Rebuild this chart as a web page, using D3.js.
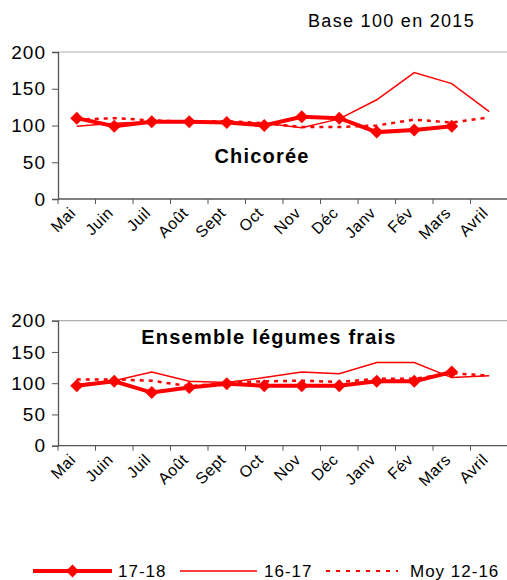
<!DOCTYPE html>
<html>
<head>
<meta charset="utf-8">
<script src="https://d3js.org/d3.v7.min.js"></script>
<style>
  * { margin: 0; padding: 0; }
  body { background: #fff; }
  svg { font-family: "Liberation Sans", Arial, sans-serif; }
</style>
</head>
<body>
<svg id="chart" width="507" height="580"></svg>
<script>
var months = ["Mai", "Juin", "Juil", "Août", "Sept", "Oct", "Nov", "Déc", "Janv", "Fév", "Mars", "Avril"];
var yTicks = [0, 50, 100, 150, 200];
var seriesNames = ["17-18", "16-17", "Moy 12-16"];

// Chicorée
var chic1718 = [110, 99, 105, 105, 104, 100, 112, 110, 91, 94, 99, null];
var chic1617 = [99, 103, 105, 105, 105, 103, 97, 109, 135, 172, 157, 119];
var chicMoy  = [108, 110, 107, 105, 106, 103, 98, 98, 100, 108, 104, 111];

// Ensemble légumes frais
var leg1718 = [96, 103, 85, 93, 99, 96, 96, 96, 103, 103, 118, null];
var leg1617 = [98, 104, 118, 103, 101, 109, 118, 115, 133, 133, 109, 112];
var legMoy  = [106, 106, 104, 95, 101, 103, 104, 102, 107, 107, 116, 112];

var red = "#ff0000";
var svg = d3.select("#chart");

// one band per month, ticks sit on the band edges
var x = d3.scaleBand().domain(months).range([58, 508]);

function drawPanel(top, bottom, title, titleX, titleY, s1718, s1617, sMoy) {
	var y = d3.scaleLinear().domain([0, 200]).range([bottom, top]);
	var g = svg.append("g");

	// top border of plot area
	g.append("line")
		.attr("x1", 58).attr("x2", 507)
		.attr("y1", y(200)).attr("y2", y(200))
		.attr("stroke", "#b0b0b0").attr("stroke-width", 1.2);

	// y axis
	var yAxis = g.append("g")
		.attr("transform", "translate(58,0)")
		.call(d3.axisLeft(y).tickValues(yTicks).tickSize(6).tickPadding(6));
	yAxis.select(".domain").attr("stroke", "#555").attr("stroke-width", 1.3);
	yAxis.selectAll(".tick line").attr("stroke", "#555");
	yAxis.selectAll("text").attr("font-size", 19).attr("fill", "#000").attr("letter-spacing", 1)
		.attr("font-family", "Liberation Sans, Arial, sans-serif");

	// x axis
	g.append("line")
		.attr("x1", 58).attr("x2", 507)
		.attr("y1", bottom).attr("y2", bottom)
		.attr("stroke", "#555").attr("stroke-width", 1.3);
	g.selectAll(".xt").data(months).enter().append("line")
		.attr("x1", function (d) { return x(d); })
		.attr("x2", function (d) { return x(d); })
		.attr("y1", bottom).attr("y2", bottom + 5)
		.attr("stroke", "#555");
	g.selectAll(".xl").data(months).enter().append("text")
		.attr("text-anchor", "end")
		.attr("font-size", 16)
		.attr("letter-spacing", 0.5)
		.attr("dy", "0.35em")
		.attr("transform", function (d) {
			return "translate(" + (x(d) + x.bandwidth() / 2 - 4) + "," + (bottom + 11) + ") rotate(-45)";
		})
		.text(function (d) { return d; });

	var cx = function (d, i) { return x(months[i]) + x.bandwidth() / 2; };
	var line = d3.line()
		.defined(function (d) { return d !== null; })
		.x(cx)
		.y(function (d) { return y(d); });

	g.append("path").datum(sMoy)
		.attr("d", line).attr("fill", "none")
		.attr("stroke", red).attr("stroke-width", 2.5)
		.attr("stroke-dasharray", "4,5");
	g.append("path").datum(s1617)
		.attr("d", line).attr("fill", "none")
		.attr("stroke", red).attr("stroke-width", 1.5);
	g.append("path").datum(s1718)
		.attr("d", line).attr("fill", "none")
		.attr("stroke", red).attr("stroke-width", 4);
	g.selectAll(".mk").data(s1718.map(function (d, i) { return { v: d, i: i }; })
		.filter(function (d) { return d.v !== null; }))
		.enter().append("path")
		.attr("d", "M0,-6.5L6.5,0L0,6.5L-6.5,0Z")
		.attr("fill", red)
		.attr("transform", function (d) { return "translate(" + cx(d.v, d.i) + "," + y(d.v) + ")"; });

	g.append("text")
		.attr("x", titleX).attr("y", titleY)
		.attr("text-anchor", "middle")
		.attr("font-size", 20).attr("font-weight", "bold")
		.attr("letter-spacing", 1.2)
		.text(title);
}

svg.append("text")
	.attr("x", 475).attr("y", 27)
	.attr("text-anchor", "end")
	.attr("font-size", 18).attr("letter-spacing", 1.3)
	.text("Base 100 en 2015");

drawPanel(52, 199, "Chicorée", 262, 163, chic1718, chic1617, chicMoy);
drawPanel(320.7, 445.7, "Ensemble légumes frais", 269, 344, leg1718, leg1617, legMoy);

// legend
var leg = svg.append("g").attr("transform", "translate(0,571)");
var legItems = [
	{ name: seriesNames[0], x1: 33, x2: 112, tx: 118, w: 4, dash: null, marker: true },
	{ name: seriesNames[1], x1: 180, x2: 257, tx: 264, w: 1.5, dash: null, marker: false },
	{ name: seriesNames[2], x1: 326, x2: 398, tx: 410, w: 2, dash: "4,6", marker: false }
];
legItems.forEach(function (it) {
	leg.append("line")
		.attr("x1", it.x1).attr("x2", it.x2)
		.attr("stroke", red).attr("stroke-width", it.w)
		.attr("stroke-dasharray", it.dash);
	if (it.marker) {
		leg.append("path")
			.attr("d", "M0,-6.5L6.5,0L0,6.5L-6.5,0Z")
			.attr("fill", red)
			.attr("transform", "translate(" + ((it.x1 + it.x2) / 2) + ",0)");
	}
	leg.append("text")
		.attr("x", it.tx).attr("y", 0).attr("dy", "0.35em")
		.attr("font-size", 17).attr("letter-spacing", 1)
		.text(it.name);
});
</script>
</body>
</html>
